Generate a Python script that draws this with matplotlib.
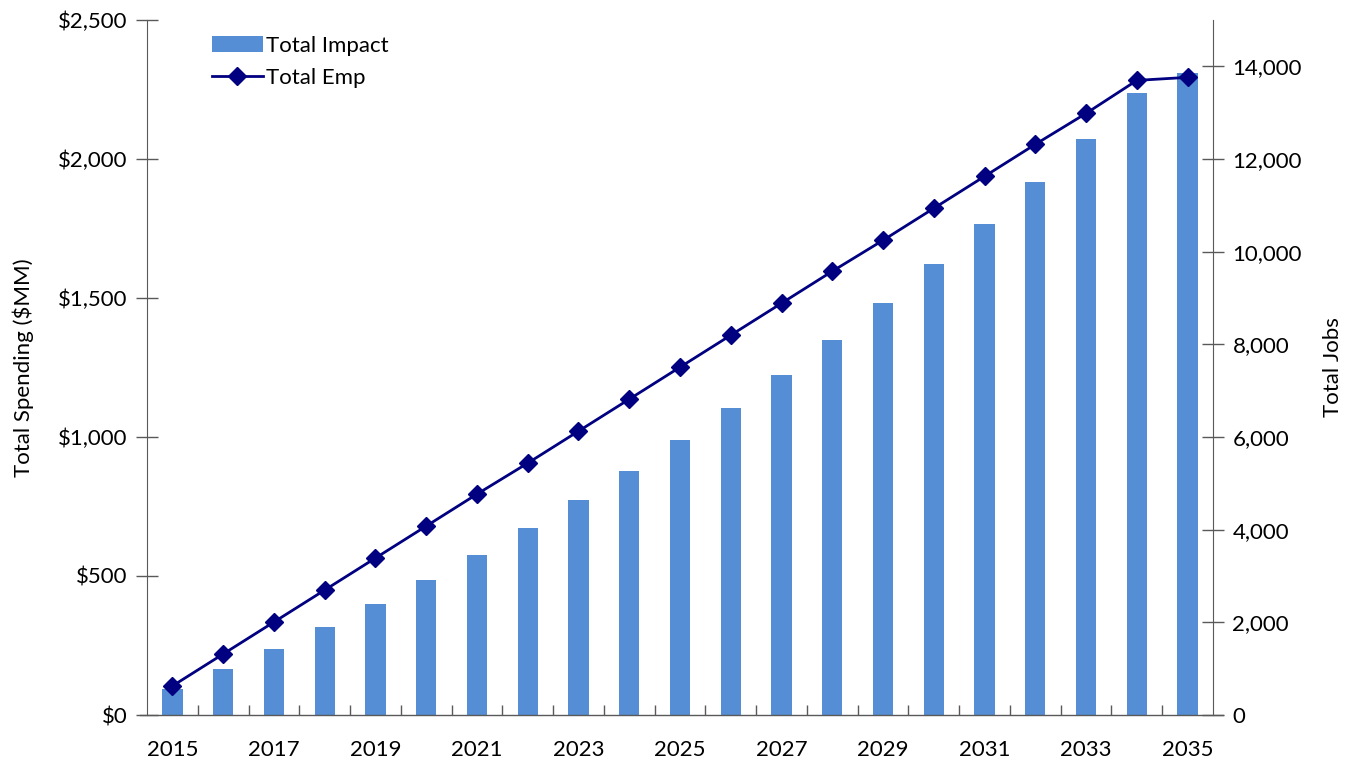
import matplotlib.pyplot as plt
import numpy as np
from matplotlib.lines import Line2D
from matplotlib.ticker import FuncFormatter, FixedLocator

years = list(range(2015, 2036))
total_impact = [94, 165, 237, 317, 399, 486, 576, 673, 773, 878, 989,
                1104, 1223, 1349, 1482, 1622, 1766, 1917, 2072, 2237, 2309]
total_emp = [626, 1316, 2006, 2696, 3387, 4077, 4767, 5436, 6126, 6816, 7507,
             8197, 8887, 9577, 10246, 10936, 11626, 12317, 12985, 13697, 13762]

plt.rcParams['font.family'] = ['Lato', 'DejaVu Sans']
plt.rcParams['font.size'] = 16

fig = plt.figure(figsize=(13.56, 7.61), dpi=100)
ax = fig.add_axes([147 / 1356, 1 - 715 / 761, (1213 - 147) / 1356, (715 - 20) / 761])
ax2 = ax.twinx()

x = np.arange(len(years))
bars = ax.bar(x, total_impact, width=0.4, color='#558ED5', label='Total Impact', zorder=2)
line, = ax2.plot(x, total_emp, color='#000080', lw=2, marker='D', ms=9,
                 label='Total Emp', zorder=3)

ax.set_xlim(-0.5, len(years) - 0.5)
ax.set_ylim(0, 2500)
ax2.set_ylim(0, 15000)

ax.set_yticks(np.arange(0, 2501, 500))
ax.yaxis.set_major_formatter(FuncFormatter(lambda v, p: '${:,.0f}'.format(v)))
ax2.set_yticks(np.arange(0, 14001, 2000))
ax2.yaxis.set_major_formatter(FuncFormatter(lambda v, p: '{:,.0f}'.format(v)))

ax.set_xticks(x[::2])
ax.set_xticklabels([str(y) for y in years[::2]])
ax.xaxis.set_minor_locator(FixedLocator(np.arange(0.5, len(years) - 0.5, 1)))
ax.tick_params(axis='x', which='major', length=0, pad=18)
ax.tick_params(axis='x', which='minor', direction='in', length=7, width=1, color='#595959')
ax.tick_params(axis='y', direction='inout', length=16, width=1, color='#595959', pad=6)
ax2.tick_params(axis='y', direction='inout', length=16, width=1, color='#595959', pad=6)

for a in (ax, ax2):
    a.spines['top'].set_visible(False)
    a.spines['bottom'].set_visible(False)
    a.spines['left'].set_color('#595959')
    a.spines['right'].set_color('#595959')
ax2.spines['left'].set_visible(False)
ax.spines['right'].set_visible(False)

ax.add_line(Line2D([-0.007, 1.009], [0, 0], transform=ax.transAxes, color='#595959',
                   lw=1, clip_on=False, zorder=5))

ax.set_ylabel('Total Spending ($MM)', labelpad=17)
ax2.set_ylabel('Total Jobs', labelpad=15)

ax.legend([bars, line], ['Total Impact', 'Total Emp'], loc='upper left',
          bbox_to_anchor=(0.042, 1.006), frameon=False, handlelength=2.3,
          handletextpad=0.15, labelspacing=0.55, fontsize=16)

fig.savefig('out.png', dpi=100)
